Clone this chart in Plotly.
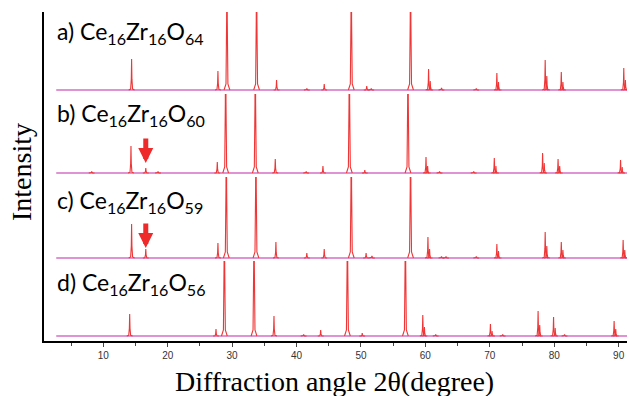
import plotly.graph_objects as go
from plotly.subplots import make_subplots

# ---- data: peak positions (2θ, degree) and heights (relative units) ----
LABELS = ["a) Ce<sub>16</sub>Zr<sub>16</sub>O<sub>64</sub>",
          "b) Ce<sub>16</sub>Zr<sub>16</sub>O<sub>60</sub>",
          "c) Ce<sub>16</sub>Zr<sub>16</sub>O<sub>59</sub>",
          "d) Ce<sub>16</sub>Zr<sub>16</sub>O<sub>56</sub>"]

A_POS = [14.4, 27.8, 29.2, 33.8, 36.9, 41.6, 44.3, 48.5, 50.9, 51.6, 57.7, 60.5, 60.75,
         62.5, 67.9, 71.1, 71.35, 78.6, 78.85, 81.1, 81.35, 90.8, 91.05]
A_H = [31, 19, 200, 200, 10, 1.5, 6, 200, 4, 1.5, 200, 21, 9,
       2, 1.5, 17, 8, 30, 14, 18, 8, 22, 10]

B_POS = [8.2, 14.3, 16.6, 18.5, 27.7, 29.0, 33.6, 36.7, 41.5, 44.1, 48.2, 50.6, 57.3,
         60.1, 60.35, 62.2, 67.5, 70.7, 70.95, 78.2, 78.45, 80.6, 80.85, 90.3, 90.55]
B_H = [1.5, 27, 5, 1.5, 11, 200, 200, 14, 1.5, 7, 200, 3, 200,
       16, 7, 1.5, 1.5, 15, 7, 20, 10, 14, 7, 13, 6]

C_POS = [14.4, 16.6, 27.8, 29.1, 33.7, 36.8, 41.6, 44.3, 48.5, 50.8, 51.7, 57.7, 60.4,
         60.65, 62.5, 63.2, 67.9, 71.1, 71.35, 78.6, 78.85, 81.1, 81.35, 90.7, 90.95]
C_H = [34, 9, 15, 200, 200, 16, 5, 9, 200, 5, 2, 200, 21,
       9, 1.5, 1.5, 1.5, 14, 7, 26, 12, 16, 8, 18, 8]

D_POS = [14.1, 27.5, 28.8, 33.4, 36.5, 41.1, 43.75, 47.9, 50.2, 56.9, 59.6, 59.85, 61.6,
         70.1, 70.35, 72.0, 77.5, 77.75, 79.9, 80.15, 81.6, 89.3, 89.55]
D_H = [22, 7, 200, 200, 20, 1.5, 6, 200, 3, 200, 21, 9, 1.5,
       12, 5, 1.5, 25, 11, 19, 8, 1.5, 15, 7]

PATTERNS = [(A_POS, A_H), (B_POS, B_H), (C_POS, C_H), (D_POS, D_H)]
SCAN_START, SCAN_END = 2.7, 91.6
ARROW_AT = [None, 16.6, 16.6, None]   # marked extra reflection

X_TICKS = [10, 20, 30, 40, 50, 60, 70, 80, 90]
X_TITLE = "Diffraction angle 2θ(degree)"
Y_TITLE = "Intensity"

# peak profile template (offsets in degree, fraction of height)
PROF_DX = [-0.45, -0.15, -0.05, 0.0, 0.05, 0.15, 0.45]
PROF_F = [0.0, 0.03, 0.35, 1.0, 0.35, 0.03, 0.0]

RED = "#ef3535"
PINK = "#d66fc6"

fig = make_subplots(rows=4, cols=1, shared_xaxes=True, vertical_spacing=0,
                    row_heights=[82, 83, 84, 80])

for i, (pos, hts) in enumerate(PATTERNS):
    r = i + 1
    fig.add_trace(go.Scatter(x=[SCAN_START, SCAN_END], y=[0, 0], mode="lines",
                             line=dict(color=PINK, width=1.3), hoverinfo="skip",
                             showlegend=False), row=r, col=1)
    xs, ys = [], []
    for p, h in zip(pos, hts):
        for dx, f in zip(PROF_DX, PROF_F):
            xs.append(p + dx)
            ys.append(h * f)
        xs.append(None)
        ys.append(None)
    fig.add_trace(go.Scatter(x=xs, y=ys, mode="lines",
                             line=dict(color=RED, width=1.1), hoverinfo="skip",
                             showlegend=False), row=r, col=1)

Y_RANGES = [[-4, 78], [-4, 79], [-3, 81], [-5, 75]]
for i, rg in enumerate(Y_RANGES):
    fig.update_yaxes(range=rg, showticklabels=False, ticks="", showgrid=False,
                     zeroline=False, showline=True, linecolor="black", linewidth=1.5,
                     row=i + 1, col=1)
    fig.update_xaxes(range=[0.8, 91.3], showgrid=False, zeroline=False,
                     row=i + 1, col=1)

for i in range(3):
    fig.update_xaxes(showticklabels=False, ticks="", showline=False, row=i + 1, col=1)

fig.update_xaxes(showline=True, linecolor="black", linewidth=1.5, ticks="outside",
                 ticklen=4, tickcolor="#444", tickwidth=1, tickvals=X_TICKS,
                 tickfont=dict(family="Liberation Sans", size=10, color="#333"),
                 minor=dict(ticks="outside", ticklen=3, dtick=5, tick0=0, tickcolor="#444"),
                 automargin=False,
                 row=4, col=1)

# page pixel -> paper coords (plot area spans x 44..627, y 12..341)
def py(px):
    return (341 - px) / 329

def pxx(px):
    return (px - 44) / 583

LABEL_Y = [33, 115, 201, 283]
for lab, yy in zip(LABELS, LABEL_Y):
    fig.add_annotation(text=lab, xref="paper", yref="paper", x=pxx(55),
                       y=py(yy), xanchor="left", yanchor="middle", showarrow=False,
                       font=dict(family="Lato", size=23, color="black"))

for i, xa in enumerate(ARROW_AT):
    if xa is None:
        continue
    r = i + 1
    fig.add_annotation(x=xa, y=10, ax=xa, ay=36, xref=f"x{r}", yref=f"y{r}",
                       axref=f"x{r}", ayref=f"y{r}", showarrow=True, arrowhead=2,
                       arrowsize=0.6, arrowwidth=5, arrowcolor="#ee2a2a", text="")

fig.add_annotation(text=Y_TITLE, xref="paper", yref="paper", x=pxx(22), y=py(172),
                   xanchor="center", yanchor="middle", textangle=-90, showarrow=False,
                   font=dict(family="Liberation Serif", size=28, color="black"))

fig.add_annotation(text=X_TITLE, xref="paper", yref="paper", x=pxx(334), y=py(381),
                   xanchor="center", yanchor="middle", showarrow=False, borderpad=0,
                   font=dict(family="Liberation Serif", size=28, color="black"))

fig.update_layout(width=629, height=396, margin=dict(l=44, r=2, t=12, b=55),
                  plot_bgcolor="white", paper_bgcolor="white")

fig.write_html("out.html", config={"displayModeBar": False},
               post_script="document.body.style.margin='0';"
                           "document.body.style.overflow='hidden';")
